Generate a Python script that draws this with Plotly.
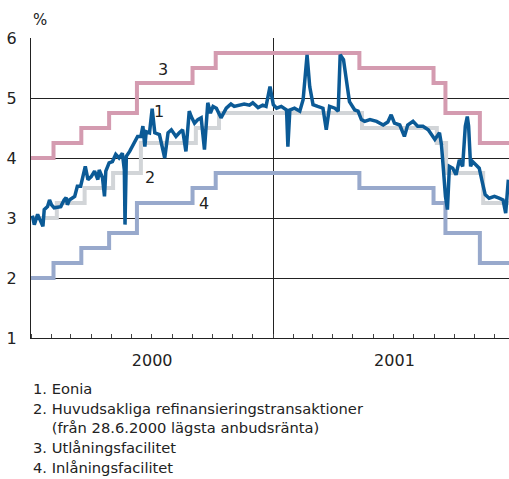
import plotly.graph_objects as go

# ---- data ----
fac_dates = ["2000-01-01", "2000-02-04", "2000-03-17", "2000-04-28", "2000-06-09",
             "2000-09-01", "2000-10-06", "2001-05-11", "2001-08-31", "2001-09-18",
             "2001-11-09", "2001-12-31"]
marginal = [4.00, 4.25, 4.50, 4.75, 5.25, 5.50, 5.75, 5.50, 5.25, 4.75, 4.25, 4.25]
deposit = [2.00, 2.25, 2.50, 2.75, 3.25, 3.50, 3.75, 3.50, 3.25, 2.75, 2.25, 2.25]

mro_dates = ["2000-01-01", "2000-02-09", "2000-03-22", "2000-05-04", "2000-06-15",
             "2000-09-06", "2000-10-11", "2001-05-15", "2001-09-05", "2001-09-19",
             "2001-11-14", "2001-12-31"]
mro = [3.00, 3.25, 3.50, 3.75, 4.25, 4.50, 4.75, 4.50, 4.25, 3.75, 3.25, 3.25]

eonia_dates = [
    "2000-01-03", "2000-01-06", "2000-01-11", "2000-01-19", "2000-01-21", "2000-01-26",
    "2000-01-29", "2000-02-01", "2000-02-05", "2000-02-15", "2000-02-20", "2000-02-23",
    "2000-02-25", "2000-02-28", "2000-03-07", "2000-03-11", "2000-03-16", "2000-03-23",
    "2000-03-27", "2000-04-01", "2000-04-06", "2000-04-11", "2000-04-13", "2000-04-18",
    "2000-04-21", "2000-04-23", "2000-04-28", "2000-05-03", "2000-05-08", "2000-05-13",
    "2000-05-18", "2000-05-21", "2000-05-22", "2000-05-24", "2000-05-29", "2000-06-03",
    "2000-06-06", "2000-06-10", "2000-06-15", "2000-06-18", "2000-06-21", "2000-06-23",
    "2000-06-28", "2000-07-02", "2000-07-06", "2000-07-13", "2000-07-21", "2000-07-26",
    "2000-07-31", "2000-08-07", "2000-08-12", "2000-08-17", "2000-08-22", "2000-08-27",
    "2000-08-30", "2000-09-04", "2000-09-09", "2000-09-14", "2000-09-19", "2000-09-24",
    "2000-09-28", "2000-10-02", "2000-10-07", "2000-10-14", "2000-10-22", "2000-10-29",
    "2000-11-03", "2000-11-11", "2000-11-18", "2000-11-26", "2000-12-01", "2000-12-09",
    "2000-12-16", "2000-12-21", "2000-12-27", "2001-01-01", "2001-01-06", "2001-01-13",
    "2001-01-21", "2001-01-23", "2001-01-26", "2001-02-02", "2001-02-10", "2001-02-15",
    "2001-02-21", "2001-02-25", "2001-03-02", "2001-03-09", "2001-03-17", "2001-03-22",
    "2001-03-27", "2001-04-04", "2001-04-09", "2001-04-12", "2001-04-17", "2001-04-22",
    "2001-04-26", "2001-05-04", "2001-05-09", "2001-05-14", "2001-05-19", "2001-05-27",
    "2001-06-06", "2001-06-16", "2001-06-23", "2001-06-28", "2001-07-03", "2001-07-11",
    "2001-07-18", "2001-07-23", "2001-07-31", "2001-08-07", "2001-08-15", "2001-08-23",
    "2001-08-28", "2001-09-02", "2001-09-09", "2001-09-12", "2001-09-15", "2001-09-18",
    "2001-09-21", "2001-09-24", "2001-09-29", "2001-10-04", "2001-10-09", "2001-10-14",
    "2001-10-18", "2001-10-21", "2001-10-23", "2001-10-26", "2001-10-29", "2001-11-03",
    "2001-11-08", "2001-11-13", "2001-11-17", "2001-11-23", "2001-12-01", "2001-12-08",
    "2001-12-14", "2001-12-18", "2001-12-22",
]
eonia = [
    3.04, 2.89, 3.06, 2.86, 3.14, 3.19,
    3.30, 3.22, 3.17, 3.19, 3.30, 3.34,
    3.22, 3.30, 3.36, 3.53, 3.53, 3.86,
    3.64, 3.69, 3.78, 3.64, 3.80, 3.67,
    3.36, 3.78, 3.92, 3.94, 4.06, 4.00,
    4.08, 3.80, 2.89, 4.03, 4.11, 4.22,
    4.30, 4.36, 4.36, 4.53, 4.19, 4.44,
    4.42, 4.82, 4.42, 4.39, 4.00, 4.42,
    4.47, 4.36, 4.42, 4.47, 4.11, 4.78,
    4.69, 4.58, 4.64, 4.67, 4.14, 4.92,
    4.75, 4.86, 4.83, 4.67, 4.83, 4.90,
    4.86, 4.88, 4.90, 4.88, 4.92, 4.84,
    4.88, 4.86, 5.19, 4.89, 4.83, 4.86,
    4.80, 4.19, 4.80, 4.83, 4.78, 4.97,
    5.72, 5.19, 4.89, 4.86, 4.83, 4.47,
    4.86, 4.83, 4.78, 5.72, 5.64, 5.25,
    4.94, 4.80, 4.78, 4.64, 4.61, 4.64,
    4.61, 4.55, 4.60, 4.72, 4.58, 4.55,
    4.36, 4.55, 4.61, 4.53, 4.53, 4.47,
    4.39, 4.31, 4.42, 4.22, 3.80, 3.36,
    3.14, 3.86, 3.83, 3.72, 3.97, 3.86,
    4.53, 4.69, 4.53, 3.86, 3.94, 3.89,
    3.83, 3.58, 3.39, 3.33, 3.36, 3.33,
    3.30, 3.08, 3.64,
]

series_labels = ["1", "2", "3", "4"]
legend_lines = [
    "1. Eonia",
    "2. Huvudsakliga refinansieringstransaktioner",
    "    (från 28.6.2000 lägsta anbudsränta)",
    "3. Utlåningsfacilitet",
    "4. Inlåningsfacilitet",
]

# ---- styling ----
FONT = "DejaVu Sans"
C_EONIA = "#0b5a96"
C_MRO = "#d2d5d8"
C_MARG = "#d49bb0"
C_DEP = "#98a9cc"

fig = go.Figure()
fig.add_trace(go.Scatter(x=fac_dates, y=marginal, mode="lines", line_shape="hv",
                         line=dict(color=C_MARG, width=4), hoverinfo="skip"))
fig.add_trace(go.Scatter(x=fac_dates, y=deposit, mode="lines", line_shape="hv",
                         line=dict(color=C_DEP, width=4), hoverinfo="skip"))
fig.add_trace(go.Scatter(x=mro_dates, y=mro, mode="lines", line_shape="hv",
                         line=dict(color=C_MRO, width=4), hoverinfo="skip"))
fig.add_trace(go.Scatter(x=eonia_dates, y=eonia, mode="lines",
                         line=dict(color=C_EONIA, width=3.5), hoverinfo="skip"))

# body margin is removed by the post script, so the figure fills the window
W, H = 509, 479
ML, MR, MT = 31, 0, 38
MB = H - 338
ph = H - MT - MB


def py(ypix):
    # window pixel -> paper fraction
    return (H - MB - ypix) / ph


annotations = []
lab_pos = [("2000-07-12", 4.77), ("2000-06-29", 3.67), ("2000-07-18", 5.47), ("2000-09-18", 3.25)]
for t, (xx, yy) in zip(series_labels, lab_pos):
    annotations.append(dict(x=xx, y=yy, xref="x", yref="y", text=t, showarrow=False,
                            font=dict(family=FONT, size=16, color="#222")))
annotations.append(dict(x=0.0, y=py(20), xref="paper", yref="paper", text="%",
                        showarrow=False, xanchor="left", yanchor="middle",
                        font=dict(family=FONT, size=15, color="#222")))
leg_y = [388, 408, 427, 447, 467]
for txt, yy in zip(legend_lines, leg_y):
    annotations.append(dict(x=0.0, y=py(yy), xref="paper", yref="paper",
                            text=txt.replace("  ", "&nbsp;&nbsp;"), showarrow=False,
                            xanchor="left", yanchor="middle", align="left",
                            font=dict(family=FONT, size=14.7, color="#222")))

fig.update_layout(
    width=W, height=H,
    margin=dict(l=ML, r=MR, t=MT, b=MB, pad=0, autoexpand=False),
    paper_bgcolor="white", plot_bgcolor="white",
    showlegend=False,
    font=dict(family=FONT, size=16, color="#222"),
    annotations=annotations,
)
fig.update_xaxes(
    type="date", range=["2000-01-01", "2001-12-23"], automargin=False,
    showline=True, linecolor="#222", linewidth=1, mirror=False,
    showgrid=True, gridcolor="#222", gridwidth=1,
    dtick="M12", tick0="2000-01-01", tickformat="%Y", ticklabelmode="period",
    ticks="inside", ticklen=4, tickcolor="#444",
    minor=dict(dtick="M1", ticks="inside", ticklen=4, tickcolor="#444", showgrid=False),
    ticklabelstandoff=8, tickfont=dict(family=FONT, size=16, color="#222"),
    zeroline=False,
)
fig.update_yaxes(
    range=[1, 6], dtick=1, tick0=1, automargin=False,
    showline=True, linecolor="#222", linewidth=1,
    showgrid=True, gridcolor="#222", gridwidth=1,
    ticks="", ticklabelstandoff=10, tickfont=dict(family=FONT, size=16, color="#222"),
    zeroline=False,
)

fig.write_html(
    "out.html",
    config={"displayModeBar": False, "staticPlot": True},
    post_script=("document.documentElement.style.overflow='hidden';"
                 "document.body.style.margin='0';document.body.style.overflow='hidden';"),
)
